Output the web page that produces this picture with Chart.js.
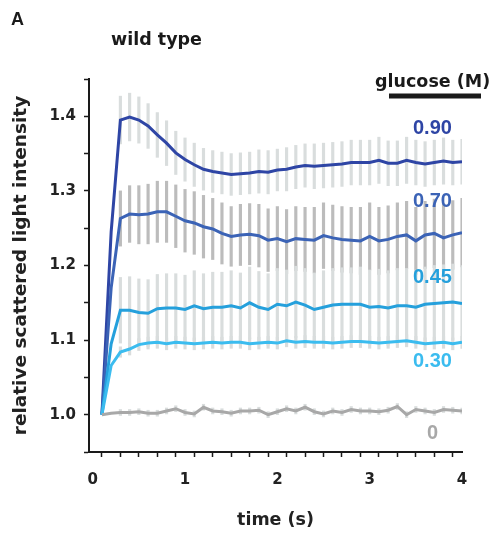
<!DOCTYPE html>
<html>
<head>
<meta charset="utf-8">
<script src="https://cdn.jsdelivr.net/npm/chart.js@4.4.1/dist/chart.umd.min.js"></script>
<style>
  html, body { margin: 0; padding: 0; background: #fff; }
</style>
</head>
<body>
<canvas id="scatterChart" width="494" height="538"></canvas>
<script>
// time points (s)
const time = [0.1, 0.2, 0.3, 0.4, 0.5, 0.6, 0.7, 0.8, 0.9, 1.0,
              1.1, 1.2, 1.3, 1.4, 1.5, 1.6, 1.7, 1.8, 1.9, 2.0,
              2.1, 2.2, 2.3, 2.4, 2.5, 2.6, 2.7, 2.8, 2.9, 3.0,
              3.1, 3.2, 3.3, 3.4, 3.5, 3.6, 3.7, 3.8, 3.9, 4.0];

// mean relative scattered light intensity per glucose concentration
const glucose090 = [1.000, 1.245, 1.395, 1.399, 1.395, 1.387, 1.375, 1.364, 1.351, 1.342,
                    1.335, 1.329, 1.326, 1.324, 1.322, 1.323, 1.324, 1.326, 1.325, 1.328,
                    1.329, 1.332, 1.334, 1.333, 1.334, 1.335, 1.336, 1.338, 1.338, 1.338,
                    1.341, 1.337, 1.337, 1.341, 1.338, 1.336, 1.338, 1.340, 1.338, 1.339];
const glucose070 = [1.000, 1.170, 1.263, 1.269, 1.268, 1.269, 1.272, 1.272, 1.266, 1.260,
                    1.257, 1.252, 1.249, 1.243, 1.239, 1.241, 1.242, 1.240, 1.234, 1.236,
                    1.232, 1.236, 1.235, 1.234, 1.240, 1.237, 1.235, 1.234, 1.233, 1.239,
                    1.233, 1.235, 1.239, 1.241, 1.233, 1.241, 1.243, 1.237, 1.241, 1.244];
const glucose045 = [1.000, 1.095, 1.140, 1.140, 1.137, 1.136, 1.142, 1.143, 1.143, 1.141,
                    1.146, 1.142, 1.144, 1.144, 1.146, 1.143, 1.150, 1.144, 1.141, 1.148,
                    1.146, 1.151, 1.147, 1.141, 1.144, 1.147, 1.148, 1.148, 1.148, 1.144,
                    1.145, 1.143, 1.146, 1.146, 1.144, 1.148, 1.149, 1.150, 1.151, 1.149];
const glucose030 = [1.000, 1.066, 1.084, 1.088, 1.094, 1.096, 1.097, 1.095, 1.097, 1.096,
                    1.095, 1.096, 1.097, 1.096, 1.097, 1.097, 1.095, 1.096, 1.097, 1.096,
                    1.099, 1.097, 1.098, 1.097, 1.097, 1.096, 1.097, 1.098, 1.098, 1.097,
                    1.096, 1.097, 1.098, 1.099, 1.097, 1.095, 1.096, 1.097, 1.095, 1.097];
const glucose000 = [1.000, 1.002, 1.003, 1.003, 1.004, 1.002, 1.002, 1.005, 1.008, 1.003,
                    1.001, 1.010, 1.005, 1.004, 1.002, 1.005, 1.005, 1.006, 1.000, 1.004,
                    1.008, 1.005, 1.010, 1.004, 1.001, 1.005, 1.003, 1.007, 1.005, 1.005,
                    1.004, 1.006, 1.011, 1.000, 1.007, 1.005, 1.003, 1.007, 1.006, 1.005];

// error bar half widths (null = no bar)
const err090 = [null, null, 0.032, 0.032, 0.031, 0.030, 0.030, 0.030, 0.029, 0.029,
                0.029, 0.028, 0.028, 0.028, 0.028, 0.028, 0.028, 0.029, 0.029, 0.028,
                0.029, 0.029, 0.029, 0.030, 0.030, 0.030, 0.030, 0.030, 0.030, 0.030,
                0.031, 0.030, 0.030, 0.031, 0.030, 0.030, 0.030, 0.031, 0.030, 0.030];
const err070 = [null, null, 0.037, 0.038, 0.039, 0.040, 0.041, 0.041, 0.042, 0.042,
                0.042, 0.042, 0.041, 0.041, 0.040, 0.041, 0.041, 0.042, 0.042, 0.043,
                0.043, 0.043, 0.043, 0.044, 0.044, 0.044, 0.044, 0.044, 0.045, 0.045,
                0.045, 0.045, 0.045, 0.045, 0.045, 0.045, 0.046, 0.046, 0.046, 0.046];
const err045 = [null, null, 0.044, 0.045, 0.045, 0.045, 0.046, 0.046, 0.046, 0.046,
                0.047, 0.047, 0.047, 0.047, 0.047, 0.047, 0.048, 0.048, 0.048, 0.048,
                0.048, 0.048, 0.049, 0.049, 0.049, 0.049, 0.049, 0.049, 0.050, 0.050,
                0.050, 0.050, 0.050, 0.050, 0.050, 0.050, 0.051, 0.051, 0.051, 0.051];
const err030 = [null, null, 0.007, 0.008, 0.008, 0.008, 0.008, 0.008, 0.008, 0.008,
                0.008, 0.008, 0.008, 0.008, 0.008, 0.008, 0.008, 0.008, 0.008, 0.008,
                0.008, 0.008, 0.008, 0.008, 0.008, 0.008, 0.008, 0.008, 0.008, 0.008,
                0.008, 0.008, 0.008, 0.008, 0.008, 0.008, 0.008, 0.008, 0.008, 0.008];
const err000 = [null, null, 0.004, 0.004, 0.004, 0.004, 0.004, 0.004, 0.004, 0.004,
                0.004, 0.004, 0.004, 0.004, 0.004, 0.004, 0.004, 0.004, 0.004, 0.004,
                0.004, 0.004, 0.004, 0.004, 0.004, 0.004, 0.004, 0.004, 0.004, 0.004,
                0.004, 0.004, 0.004, 0.004, 0.004, 0.004, 0.004, 0.004, 0.004, 0.004];

const concLabels = ['0.90', '0.70', '0.45', '0.30', '0'];

const lineColors = ['#2e45a5', '#3b63b6', '#25a0dc', '#3bbcef', '#a8a8a8'];
const lightBar = '#d9dddd';
const darkBar = '#bcbcbc';

function linePoints(mean) {
    return time.map((t, i) => ({ x: t, y: mean[i] }));
}

function errorBars(mean, err) {
    return time
        .map((t, i) => err[i] == null ? null : { x: t, y: [mean[i] - err[i], mean[i] + err[i]] })
        .filter(p => p !== null);
}

function barSet(mean, err, color) {
    return {
        type: 'bar',
        data: errorBars(mean, err),
        backgroundColor: color,
        borderWidth: 0,
        barThickness: 2.5,
        grouped: false,
        order: 5
    };
}

function lineSet(label, mean, color) {
    return {
        type: 'line',
        label: label,
        data: linePoints(mean),
        borderColor: color,
        borderWidth: 3,
        pointRadius: 0,
        fill: false,
        tension: 0,
        order: 1
    };
}

// texts around the plot + the concentration labels
const textPlugin = {
    id: 'texts',
    afterDraw(chart) {
        const ctx = chart.ctx;
        const xs = chart.scales.x, ys = chart.scales.y;
        ctx.save();
        ctx.fillStyle = '#1a1a1a';
        ctx.textBaseline = 'alphabetic';
        ctx.textAlign = 'left';
        ctx.font = 'bold 18px "Liberation Sans", Arial';
        ctx.fillText('A', 11, 25);
        ctx.font = 'bold 17.5px "DejaVu Sans"';
        ctx.fillText('wild type', 111, 45);
        ctx.fillText('glucose (M)', 375, 87);
        ctx.fillRect(389, 93.5, 92, 5);

        // concentration labels, placed in data units
        const labelT = 3.68;
        const labelV = [1.3763, 1.2788, 1.1769, 1.0635, 0.967];
        ctx.font = 'bold 20px "Liberation Sans", Arial';
        ctx.textAlign = 'center';
        concLabels.forEach((txt, i) => {
            ctx.fillStyle = lineColors[i];
            ctx.fillText(txt, xs.getPixelForValue(labelT), ys.getPixelForValue(labelV[i]));
        });
        ctx.restore();
    }
};

const tickFont = { family: '"DejaVu Sans"', size: 15, weight: 'bold' };
const titleFont = { family: '"DejaVu Sans"', size: 17.5, weight: 'bold' };

const config = {
    type: 'line',
    data: {
        datasets: [
            lineSet(concLabels[4], glucose000, lineColors[4]),
            lineSet(concLabels[3], glucose030, lineColors[3]),
            lineSet(concLabels[2], glucose045, lineColors[2]),
            lineSet(concLabels[1], glucose070, lineColors[1]),
            lineSet(concLabels[0], glucose090, lineColors[0]),
            barSet(glucose000, err000, lightBar),
            barSet(glucose030, err030, lightBar),
            barSet(glucose045, err045, lightBar),
            barSet(glucose070, err070, darkBar),
            barSet(glucose090, err090, lightBar)
        ]
    },
    options: {
        responsive: false,
        animation: false,
        events: [],
        layout: { padding: { top: 79, right: 32, bottom: 0, left: 0 } },
        plugins: {
            legend: { display: false },
            tooltip: { enabled: false },
            title: { display: false }
        },
        scales: {
            x: {
                type: 'linear',
                min: -0.04,
                max: 4,
                offset: false,
                afterFit: function(scale) { scale.height = 86; },
                border: { display: true, color: '#1a1a1a', width: 2 },
                grid: {
                    display: true,
                    drawOnChartArea: false,
                    drawTicks: true,
                    tickLength: 5,
                    tickColor: '#1a1a1a',
                    tickWidth: 1.5
                },
                ticks: {
                    stepSize: 0.2,
                    includeBounds: false,
                    autoSkip: false,
                    maxRotation: 0,
                    padding: 14,
                    color: '#222',
                    font: tickFont,
                    callback: function(value) {
                        return Math.abs(value - Math.round(value)) < 1e-6 ? String(Math.round(value)) : '';
                    }
                },
                title: {
                    display: true,
                    text: 'time (s)',
                    color: '#222',
                    font: titleFont,
                    padding: { top: 4, bottom: 7.5 }
                }
            },
            y: {
                type: 'linear',
                min: 0.95,
                max: 1.45,
                afterFit: function(scale) { scale.width = 89; },
                border: { display: true, color: '#1a1a1a', width: 2 },
                grid: {
                    display: true,
                    drawOnChartArea: false,
                    drawTicks: true,
                    tickLength: 5,
                    tickColor: '#1a1a1a',
                    tickWidth: 1.5
                },
                ticks: {
                    stepSize: 0.05,
                    autoSkip: false,
                    padding: 8,
                    color: '#222',
                    font: tickFont,
                    callback: function(value) {
                        const n = Math.round(value * 20);
                        return n % 2 === 0 ? (n / 20).toFixed(1) : '';
                    }
                },
                title: {
                    display: true,
                    text: 'relative scattered light intensity',
                    color: '#222',
                    font: { family: '"DejaVu Sans"', size: 18.5, weight: 'bold' },
                    padding: { top: 10, bottom: 4 }
                }
            }
        }
    },
    plugins: [textPlugin]
};

const myChart = new Chart(document.getElementById('scatterChart'), config);
</script>
</body>
</html>
